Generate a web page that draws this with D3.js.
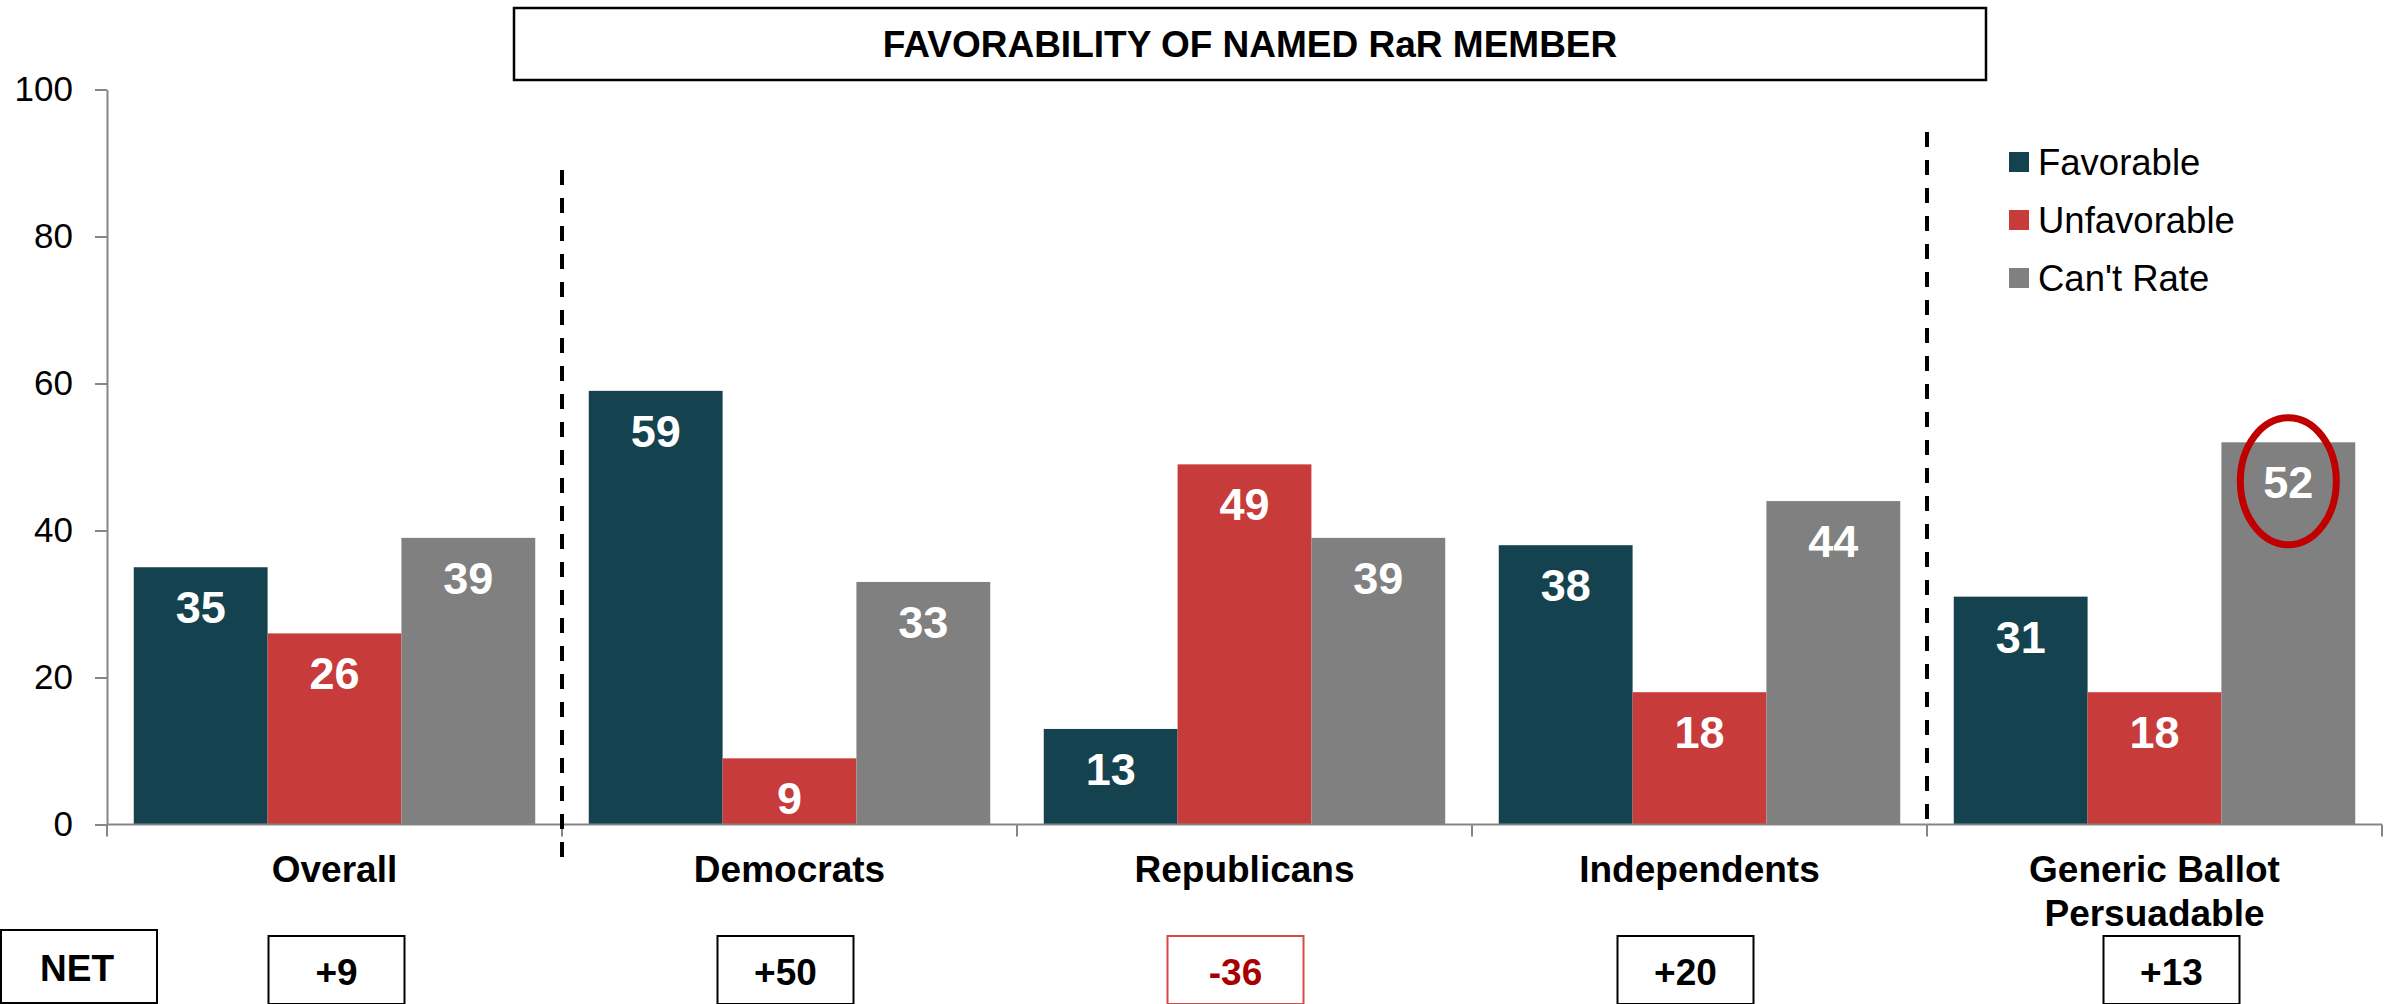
<!DOCTYPE html>
<html>
<head>
<meta charset="utf-8">
<script src="https://cdn.jsdelivr.net/npm/d3@7"></script>
<style>
  html, body { margin: 0; padding: 0; background: #fff; }
  svg { display: block; font-family: "Liberation Sans", Arial, sans-serif; }
</style>
</head>
<body>
<svg id="chart" width="2389" height="1004"></svg>
<script>
// ---- data ----
const categories = ["Overall", "Democrats", "Republicans", "Independents", "Generic Ballot Persuadable"];
const categoryLines = [["Overall"], ["Democrats"], ["Republicans"], ["Independents"], ["Generic Ballot", "Persuadable"]];
const series = ["Favorable", "Unfavorable", "Can't Rate"];
const favorable = [35, 59, 13, 38, 31];
const unfavorable = [26, 9, 49, 18, 18];
const cantRate = [39, 33, 39, 44, 52];
const netLabels = ["+9", "+50", "-36", "+20", "+13"];
const yTicks = [0, 20, 40, 60, 80, 100];
const titleText = "FAVORABILITY OF NAMED RaR MEMBER";

// ---- layout / style ----
const colors = { "Favorable": "#15424F", "Unfavorable": "#C83B3B", "Can't Rate": "#808080" };
const axisColor = "#868686";
const netShift = [2, -4, -9, -14, 17];   // small hand-placed offsets of NET boxes
const svg = d3.select("#chart");

const x0 = d3.scaleBand().domain(categories).range([107, 2382]).padding(0);
const x1 = d3.scaleBand().domain(series).range([0, x0.bandwidth()]).paddingInner(0).paddingOuter(0.2);
const y = d3.scaleLinear().domain([0, 100]).range([824.5, 89.5]);

const valuesBySeries = { "Favorable": favorable, "Unfavorable": unfavorable, "Can't Rate": cantRate };
const rows = [];
categories.forEach((c, i) => series.forEach(s => rows.push({ cat: c, s, v: valuesBySeries[s][i], i })));

// title box
svg.append("rect").attr("x", 514).attr("y", 8).attr("width", 1472).attr("height", 72)
  .attr("fill", "#fff").attr("stroke", "#000").attr("stroke-width", 2.5);
svg.append("text").attr("x", 1250).attr("y", 57).attr("text-anchor", "middle")
  .attr("font-size", 37).attr("font-weight", "bold").text(titleText);

// bars
svg.append("g").selectAll("rect").data(rows).join("rect")
  .attr("x", d => x0(d.cat) + x1(d.s))
  .attr("y", d => y(d.v))
  .attr("width", x1.bandwidth())
  .attr("height", d => y(0) - y(d.v))
  .attr("fill", d => colors[d.s]);

// bar labels
svg.append("g").selectAll("text").data(rows).join("text")
  .attr("x", d => x0(d.cat) + x1(d.s) + x1.bandwidth() / 2)
  .attr("y", d => y(d.v) + 56)
  .attr("text-anchor", "middle")
  .attr("font-size", 45).attr("font-weight", "bold").attr("fill", "#fff")
  .text(d => d.v);

// y axis
const yAxis = d3.axisLeft(y).tickValues(yTicks).tickSize(12).tickSizeOuter(0).tickPadding(22);
const gy = svg.append("g").attr("transform", "translate(107,0)").call(yAxis);
gy.select(".domain").attr("stroke", axisColor).attr("stroke-width", 2);
gy.selectAll(".tick line").attr("stroke", axisColor).attr("stroke-width", 2);
gy.selectAll(".tick text").attr("font-size", 35).attr("fill", "#000")
  .attr("font-family", "'Liberation Sans', Arial, sans-serif");

// x axis line + boundary ticks
svg.append("line").attr("x1", 107).attr("x2", 2382).attr("y1", y(0)).attr("y2", y(0))
  .attr("stroke", axisColor).attr("stroke-width", 2);
const bounds = categories.map(c => x0(c)).concat([x0(categories[categories.length - 1]) + x0.bandwidth()]);
svg.append("g").selectAll("line").data(bounds).join("line")
  .attr("x1", d => d).attr("x2", d => d).attr("y1", y(0)).attr("y2", y(0) + 12)
  .attr("stroke", axisColor).attr("stroke-width", 2);

// category labels
categories.forEach((c, i) => {
  const t = svg.append("text").attr("x", x0(c) + x0.bandwidth() / 2).attr("y", 882)
    .attr("text-anchor", "middle").attr("font-size", 37).attr("font-weight", "bold");
  categoryLines[i].forEach((ln, k) => {
    t.append("tspan").attr("x", x0(c) + x0.bandwidth() / 2).attr("dy", k === 0 ? 0 : 44).text(ln);
  });
});

// dashed separators
svg.append("line").attr("x1", x0("Democrats")).attr("x2", x0("Democrats"))
  .attr("y1", 170).attr("y2", 858).attr("stroke", "#000").attr("stroke-width", 4)
  .attr("stroke-dasharray", "15,13");
svg.append("line").attr("x1", x0("Generic Ballot Persuadable")).attr("x2", x0("Generic Ballot Persuadable"))
  .attr("y1", 132).attr("y2", 819).attr("stroke", "#000").attr("stroke-width", 4)
  .attr("stroke-dasharray", "15,13");

// legend
const lg = svg.append("g");
series.forEach((s, k) => {
  const cy = 162 + k * 58;
  lg.append("rect").attr("x", 2009).attr("y", cy - 10).attr("width", 20).attr("height", 20).attr("fill", colors[s]);
  lg.append("text").attr("x", 2038).attr("y", cy + 13).attr("font-size", 36.5).attr("fill", "#000").text(s);
});

// highlight ellipse on Generic Ballot Can't Rate
const hc = categories[4];
svg.append("ellipse")
  .attr("cx", x0(hc) + x1("Can't Rate") + x1.bandwidth() / 2)
  .attr("cy", y(cantRate[4]) + 39)
  .attr("rx", 48).attr("ry", 63.5)
  .attr("fill", "none").attr("stroke", "#C00000").attr("stroke-width", 7);

// NET boxes
svg.append("rect").attr("x", 1).attr("y", 930).attr("width", 156).attr("height", 73)
  .attr("fill", "#fff").attr("stroke", "#000").attr("stroke-width", 2);
svg.append("text").attr("x", 77).attr("y", 981).attr("text-anchor", "middle")
  .attr("font-size", 37).attr("font-weight", "bold").text("NET");

categories.forEach((c, i) => {
  const cx = x0(c) + x0.bandwidth() / 2 + netShift[i];
  const neg = netLabels[i].startsWith("-");
  svg.append("rect").attr("x", cx - 68).attr("y", 936).attr("width", 136).attr("height", 68)
    .attr("fill", "#fff").attr("stroke", neg ? "#D44A4A" : "#000").attr("stroke-width", 2);
  svg.append("text").attr("x", cx).attr("y", 985).attr("text-anchor", "middle")
    .attr("font-size", 37).attr("font-weight", "bold").attr("fill", neg ? "#A80000" : "#000")
    .text(netLabels[i]);
});
</script>
</body>
</html>
